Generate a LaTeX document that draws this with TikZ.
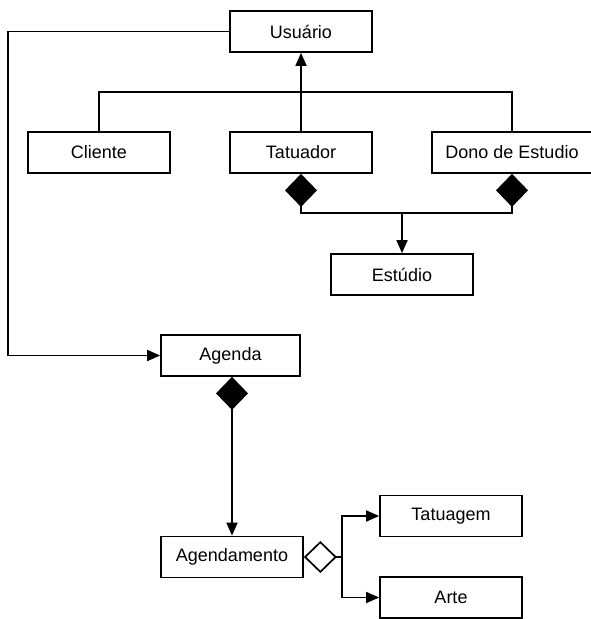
\documentclass[tikz,border=0pt]{standalone}
\usepackage{fontspec}
\setmainfont{Liberation Sans}
\usetikzlibrary{arrows.meta}
\begin{document}
\begin{tikzpicture}[x=1pt,y=-1pt,
  cls/.style={draw, line width=1.7pt, minimum width=142pt, minimum height=41pt, inner sep=0pt,
    font=\fontsize{18}{21}\selectfont, anchor=center},
  conn/.style={line width=1.7pt},
  tri/.style={-{Triangle[length=13pt,width=11pt]}},
  comp/.style={{Diamond[length=33pt,width=32pt]}-},
  comptri/.style={{Diamond[length=33pt,width=32pt]}-{Triangle[length=13pt,width=11pt]}},
  aggr/.style={{Diamond[open,length=33pt,width=32pt,fill=white]}-}
]
\useasboundingbox (0,0) rectangle (591,619);
\node[cls] (usu) at (301,31.5) {Usuário};
\node[cls] (cli) at (99,152.5) {Cliente};
\node[cls] (tat) at (301,152.5) {Tatuador};
\node[cls, minimum width=160pt] (dono) at (512,152.5) {Dono de Estudio};
\node[cls] (est) at (402,274.5) {Estúdio};
\node[cls, minimum width=139pt] (age) at (230.5,355.5) {Agenda};
\node[cls] (agd) at (232,557) {Agendamento};
\node[cls] (tatu) at (451,516) {Tatuagem};
\node[cls] (arte) at (451,597.5) {Arte};
\coordinate (gen) at (301,92);
\coordinate (cmp) at (402,213);
\coordinate (agr) at (342,557);
% generalization
\draw[conn] (cli.north) |- (gen) -| (dono.north);
\draw[conn,tri] (tat.north) -- (usu.south);
% composition to Estudio
\draw[conn,comp] (tat.south) |- (cmp);
\draw[conn,comp] (dono.south) |- (cmp);
\draw[conn,tri] (cmp) -- (est.north);
% Usuario to Agenda
\draw[conn,tri] (usu.west) -- (8,31.5) |- (age.west);
% Agenda to Agendamento
\draw[conn,comptri] (age.south -| agd.north) -- (agd.north);
% Agendamento aggregation
\draw[conn,aggr] (agd.east) -- (agr);
\draw[conn,tri] (agr) |- (tatu.west);
\draw[conn,tri] (agr) |- (arte.west);
\end{tikzpicture}
\end{document}
